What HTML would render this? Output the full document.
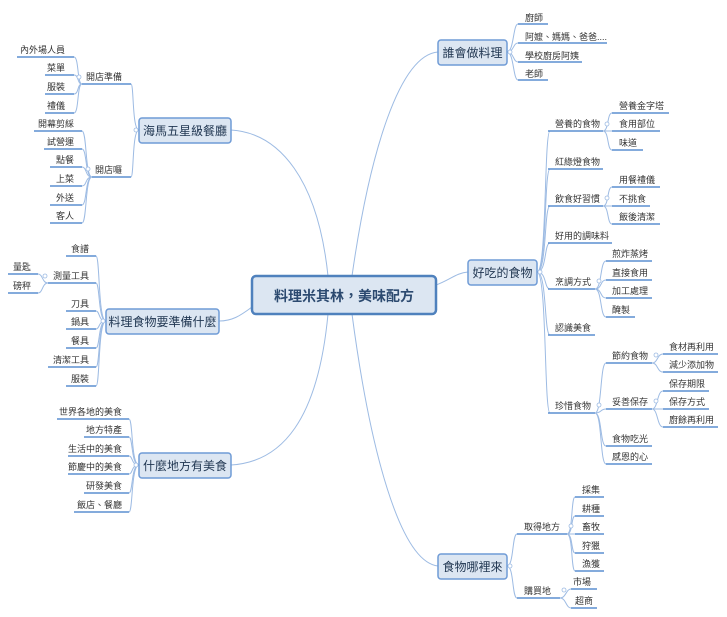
<!DOCTYPE html>
<html><head><meta charset="utf-8"><style>
html,body{margin:0;padding:0;background:#fff;}
svg{display:block;}
text{font-family:"Liberation Sans","Noto Sans CJK TC",sans-serif;fill:#333;}
.s{font-size:9px;}
.m{font-size:12px;fill:#1f3550;}
.c{fill:none;stroke:#9dbbe3;stroke-width:1;}
.u{stroke:#5b8fd1;stroke-width:1.4;}
.b{fill:#dce6f2;stroke:#6f9bd6;stroke-width:1.5;}
.o{fill:#fff;stroke:#9dbbe3;stroke-width:0.8;}
</style></head><body>
<svg width="727" height="617" viewBox="0 0 727 617" xmlns="http://www.w3.org/2000/svg">
<!-- main connectors -->
<path class="c" d="M328 276 C318 180,280 133,231 130"/>
<path class="c" d="M352 276 C370 150,400 55,438 52"/>
<path class="c" d="M436 285 C450 280,456 273,468 272"/>
<path class="c" d="M252 307 C240 316,232 321,219 321"/>
<path class="c" d="M328 314 C318 420,282 462,231 465"/>
<path class="c" d="M352 314 C370 450,400 562,438 566"/>

<!-- 誰會做料理 -->
<g>
<path class="c" d="M507 52 C514 52,513 24,518 24"/><path class="c" d="M507 52 C514 52,513 43,518 43"/>
<path class="c" d="M507 52 C514 52,513 62,518 62"/><path class="c" d="M507 52 C514 52,513 80,518 80"/>
<line class="u" x1="518" y1="24" x2="548" y2="24"/><line class="u" x1="518" y1="43" x2="607" y2="43"/>
<line class="u" x1="518" y1="62" x2="582" y2="62"/><line class="u" x1="518" y1="80" x2="548" y2="80"/>
<text class="s" x="525" y="21">廚師</text><text class="s" x="525" y="40">阿嬤、媽媽、爸爸....</text>
<text class="s" x="525" y="59">學校廚房阿姨</text><text class="s" x="525" y="77">老師</text>
</g>

<!-- 好吃的食物 -->
<g>
<path class="c" d="M537 272 C547 272,544 131,550 131"/><path class="c" d="M537 272 C547 272,544 169,550 169"/>
<path class="c" d="M537 272 C547 272,544 206,550 206"/><path class="c" d="M537 272 C547 272,544 243,550 243"/>
<path class="c" d="M537 272 C547 272,544 289,550 289"/><path class="c" d="M537 272 C547 272,544 335,550 335"/>
<path class="c" d="M537 272 C547 272,544 413,550 413"/>
<line class="u" x1="548" y1="131" x2="603" y2="131"/><line class="u" x1="548" y1="169" x2="603" y2="169"/>
<line class="u" x1="548" y1="206" x2="603" y2="206"/><line class="u" x1="548" y1="243" x2="612" y2="243"/>
<line class="u" x1="548" y1="289" x2="595" y2="289"/><line class="u" x1="548" y1="335" x2="595" y2="335"/>
<line class="u" x1="548" y1="413" x2="595" y2="413"/>
<text class="s" x="555" y="127">營養的食物</text><text class="s" x="555" y="165">紅綠燈食物</text>
<text class="s" x="555" y="202">飲食好習慣</text><text class="s" x="555" y="239">好用的調味料</text>
<text class="s" x="555" y="285">烹調方式</text><text class="s" x="555" y="331">認識美食</text>
<text class="s" x="555" y="409">珍惜食物</text>
<!-- 營養 -->
<path class="c" d="M603 131 C609 131,607 113,612 113"/><path class="c" d="M603 131 L612 131"/><path class="c" d="M603 131 C609 131,607 150,612 150"/>
<line class="u" x1="612" y1="113" x2="669" y2="113"/><line class="u" x1="612" y1="131" x2="660" y2="131"/><line class="u" x1="612" y1="150" x2="643" y2="150"/>
<text class="s" x="619" y="109">營養金字塔</text><text class="s" x="619" y="127">食用部位</text><text class="s" x="619" y="146">味道</text>
<!-- 飲食 -->
<path class="c" d="M603 206 C609 206,607 187,612 187"/><path class="c" d="M603 206 L612 206"/><path class="c" d="M603 206 C609 206,607 224,612 224"/>
<line class="u" x1="612" y1="187" x2="660" y2="187"/><line class="u" x1="612" y1="206" x2="650" y2="206"/><line class="u" x1="612" y1="224" x2="660" y2="224"/>
<text class="s" x="619" y="183">用餐禮儀</text><text class="s" x="619" y="202">不挑食</text><text class="s" x="619" y="220">飯後清潔</text>
<!-- 烹調 -->
<path class="c" d="M595 289 C602 289,600 261,606 261"/><path class="c" d="M595 289 C602 289,600 280,606 280"/>
<path class="c" d="M595 289 C602 289,600 298,606 298"/><path class="c" d="M595 289 C602 289,600 317,606 317"/>
<line class="u" x1="606" y1="261" x2="652" y2="261"/><line class="u" x1="606" y1="280" x2="652" y2="280"/>
<line class="u" x1="606" y1="298" x2="652" y2="298"/><line class="u" x1="606" y1="317" x2="635" y2="317"/>
<text class="s" x="612" y="257">煎炸蒸烤</text><text class="s" x="612" y="276">直接食用</text>
<text class="s" x="612" y="294">加工處理</text><text class="s" x="612" y="313">醃製</text>
<!-- 珍惜 -->
<path class="c" d="M595 413 C602 413,600 363,606 363"/><path class="c" d="M595 413 C602 413,600 409,606 409"/>
<path class="c" d="M595 413 C602 413,600 446,606 446"/><path class="c" d="M595 413 C602 413,600 464,606 464"/>
<line class="u" x1="606" y1="363" x2="652" y2="363"/><line class="u" x1="606" y1="409" x2="652" y2="409"/>
<line class="u" x1="606" y1="446" x2="652" y2="446"/><line class="u" x1="606" y1="464" x2="652" y2="464"/>
<text class="s" x="612" y="359">節約食物</text><text class="s" x="612" y="405">妥善保存</text>
<text class="s" x="612" y="442">食物吃光</text><text class="s" x="612" y="460">感恩的心</text>
<path class="c" d="M652 363 C658 363,657 354,663 354"/><path class="c" d="M652 363 C658 363,657 372,663 372"/>
<line class="u" x1="663" y1="354" x2="718" y2="354"/><line class="u" x1="663" y1="372" x2="718" y2="372"/>
<text class="s" x="669" y="350">食材再利用</text><text class="s" x="669" y="368">減少添加物</text>
<path class="c" d="M652 409 C658 409,657 391,663 391"/><path class="c" d="M652 409 L663 409"/><path class="c" d="M652 409 C658 409,657 427,663 427"/>
<line class="u" x1="663" y1="391" x2="709" y2="391"/><line class="u" x1="663" y1="409" x2="709" y2="409"/><line class="u" x1="663" y1="427" x2="718" y2="427"/>
<text class="s" x="669" y="387">保存期限</text><text class="s" x="669" y="405">保存方式</text><text class="s" x="669" y="423">廚餘再利用</text>
</g>

<!-- 食物哪裡來 -->
<g>
<path class="c" d="M507 566 C514 566,512 534,517 534"/><path class="c" d="M507 566 C514 566,512 598,517 598"/>
<line class="u" x1="517" y1="534" x2="567" y2="534"/><line class="u" x1="517" y1="598" x2="560" y2="598"/>
<text class="s" x="524" y="530">取得地方</text><text class="s" x="524" y="594">購買地</text>
<path class="c" d="M567 534 C573 534,571 497,575 497"/><path class="c" d="M567 534 C573 534,571 516,575 516"/>
<path class="c" d="M567 534 L575 534"/><path class="c" d="M567 534 C573 534,571 553,575 553"/>
<path class="c" d="M567 534 C573 534,571 571,575 571"/>
<line class="u" x1="575" y1="497" x2="604" y2="497"/><line class="u" x1="575" y1="516" x2="604" y2="516"/>
<line class="u" x1="575" y1="534" x2="604" y2="534"/><line class="u" x1="575" y1="553" x2="604" y2="553"/>
<line class="u" x1="575" y1="571" x2="604" y2="571"/>
<text class="s" x="582" y="493">採集</text><text class="s" x="582" y="512">耕種</text><text class="s" x="582" y="530">畜牧</text>
<text class="s" x="582" y="549">狩獵</text><text class="s" x="582" y="567">漁獲</text>
<path class="c" d="M560 598 C566 598,566 589,571 589"/><path class="c" d="M560 598 C566 598,566 608,571 608"/>
<line class="u" x1="571" y1="589" x2="597" y2="589"/><line class="u" x1="571" y1="608" x2="597" y2="608"/>
<text class="s" x="573" y="585">市場</text><text class="s" x="575" y="604">超商</text>
</g>

<!-- 海馬五星級餐廳 -->
<g>
<path class="c" d="M139 130 C132 130,134 84,131 84"/><path class="c" d="M139 130 C132 130,134 177,131 177"/>
<line class="u" x1="82" y1="84" x2="131" y2="84"/><line class="u" x1="92" y1="177" x2="131" y2="177"/>
<text class="s" x="122" y="80" text-anchor="end">開店準備</text><text class="s" x="122" y="173" text-anchor="end">開店囉</text>
<path class="c" d="M82 84 C77 84,79 57,74 57"/><path class="c" d="M82 84 C77 84,79 75,74 75"/>
<path class="c" d="M82 84 C77 84,79 94,74 94"/><path class="c" d="M82 84 C77 84,79 113,74 113"/>
<line class="u" x1="17" y1="57" x2="74" y2="57"/><line class="u" x1="45" y1="75" x2="74" y2="75"/>
<line class="u" x1="45" y1="94" x2="74" y2="94"/><line class="u" x1="45" y1="113" x2="74" y2="113"/>
<text class="s" x="65" y="53" text-anchor="end">內外場人員</text><text class="s" x="65" y="71" text-anchor="end">菜單</text>
<text class="s" x="65" y="90" text-anchor="end">服裝</text><text class="s" x="65" y="109" text-anchor="end">禮儀</text>
<path class="c" d="M92 177 C85 177,87 131,82 131"/><path class="c" d="M92 177 C85 177,87 149,82 149"/>
<path class="c" d="M92 177 C85 177,87 167,82 167"/><path class="c" d="M92 177 C85 177,87 186,82 186"/>
<path class="c" d="M92 177 C85 177,87 205,82 205"/><path class="c" d="M92 177 C85 177,87 223,82 223"/>
<line class="u" x1="34" y1="131" x2="82" y2="131"/><line class="u" x1="44" y1="149" x2="82" y2="149"/>
<line class="u" x1="50" y1="167" x2="82" y2="167"/><line class="u" x1="50" y1="186" x2="82" y2="186"/>
<line class="u" x1="50" y1="205" x2="82" y2="205"/><line class="u" x1="50" y1="223" x2="82" y2="223"/>
<text class="s" x="74" y="127" text-anchor="end">開幕剪綵</text><text class="s" x="74" y="145" text-anchor="end">試營運</text>
<text class="s" x="74" y="163" text-anchor="end">點餐</text><text class="s" x="74" y="182" text-anchor="end">上菜</text>
<text class="s" x="74" y="201" text-anchor="end">外送</text><text class="s" x="74" y="219" text-anchor="end">客人</text>
</g>

<!-- 料理食物要準備什麼 -->
<g>
<path class="c" d="M106 321 C98 321,100 256,96 256"/><path class="c" d="M106 321 C98 321,100 283,96 283"/>
<path class="c" d="M106 321 C98 321,100 311,96 311"/><path class="c" d="M106 321 C98 321,100 329,96 329"/>
<path class="c" d="M106 321 C98 321,100 348,96 348"/><path class="c" d="M106 321 C98 321,100 367,96 367"/>
<path class="c" d="M106 321 C98 321,100 386,96 386"/>
<line class="u" x1="66" y1="256" x2="96" y2="256"/><line class="u" x1="48" y1="283" x2="96" y2="283"/>
<line class="u" x1="66" y1="311" x2="96" y2="311"/><line class="u" x1="66" y1="329" x2="96" y2="329"/>
<line class="u" x1="66" y1="348" x2="96" y2="348"/><line class="u" x1="48" y1="367" x2="96" y2="367"/>
<line class="u" x1="66" y1="386" x2="96" y2="386"/>
<text class="s" x="89" y="252" text-anchor="end">食譜</text><text class="s" x="89" y="279" text-anchor="end">測量工具</text>
<text class="s" x="89" y="307" text-anchor="end">刀具</text><text class="s" x="89" y="325" text-anchor="end">鍋具</text>
<text class="s" x="89" y="344" text-anchor="end">餐具</text><text class="s" x="89" y="363" text-anchor="end">清潔工具</text>
<text class="s" x="89" y="382" text-anchor="end">服裝</text>
<path class="c" d="M48 283 C42 283,43 274,38 274"/><path class="c" d="M48 283 C42 283,43 293,38 293"/>
<line class="u" x1="8" y1="274" x2="38" y2="274"/><line class="u" x1="8" y1="293" x2="38" y2="293"/>
<text class="s" x="13" y="270">量匙</text><text class="s" x="13" y="289">磅秤</text>
</g>

<!-- 什麼地方有美食 -->
<g>
<path class="c" d="M139 465 C131 465,133 419,129 419"/><path class="c" d="M139 465 C131 465,133 437,129 437"/>
<path class="c" d="M139 465 C131 465,133 456,129 456"/><path class="c" d="M139 465 C131 465,133 474,129 474"/>
<path class="c" d="M139 465 C131 465,133 493,129 493"/><path class="c" d="M139 465 C131 465,133 512,129 512"/>
<line class="u" x1="57" y1="419" x2="129" y2="419"/><line class="u" x1="84" y1="437" x2="129" y2="437"/>
<line class="u" x1="68" y1="456" x2="129" y2="456"/><line class="u" x1="68" y1="474" x2="129" y2="474"/>
<line class="u" x1="84" y1="493" x2="129" y2="493"/><line class="u" x1="74" y1="512" x2="129" y2="512"/>
<text class="s" x="122" y="415" text-anchor="end">世界各地的美食</text><text class="s" x="122" y="433" text-anchor="end">地方特產</text>
<text class="s" x="122" y="452" text-anchor="end">生活中的美食</text><text class="s" x="122" y="470" text-anchor="end">節慶中的美食</text>
<text class="s" x="122" y="489" text-anchor="end">研發美食</text><text class="s" x="122" y="508" text-anchor="end">飯店、餐廳</text>
</g>

<!-- collapse circles -->
<g class="o">
<circle cx="510" cy="52" r="2"/><circle cx="540" cy="272" r="2"/><circle cx="607" cy="124" r="2"/><circle cx="607" cy="198" r="2"/>
<circle cx="599" cy="281" r="2"/><circle cx="599" cy="405" r="2"/><circle cx="656" cy="355" r="2"/><circle cx="656" cy="401" r="2"/>
<circle cx="510" cy="566" r="2"/><circle cx="571" cy="526" r="2"/><circle cx="564" cy="590" r="2"/>
<circle cx="136" cy="130" r="2"/><circle cx="79" cy="77" r="2"/><circle cx="88" cy="169" r="2"/><circle cx="103" cy="321" r="2"/>
<circle cx="45" cy="276" r="2"/><circle cx="136" cy="465" r="2"/>
</g>

<!-- main boxes -->
<rect class="b" x="438" y="40" width="69" height="25" rx="3"/><text class="m" x="472.5" y="57" text-anchor="middle">誰會做料理</text>
<rect class="b" x="139" y="118" width="92" height="25" rx="3"/><text class="m" x="185" y="135" text-anchor="middle">海馬五星級餐廳</text>
<rect class="b" x="468" y="260" width="69" height="25" rx="3"/><text class="m" x="502.5" y="277" text-anchor="middle">好吃的食物</text>
<rect class="b" x="106" y="309" width="113" height="25" rx="3"/><text class="m" x="162.5" y="326" text-anchor="middle">料理食物要準備什麼</text>
<rect class="b" x="139" y="453" width="92" height="25" rx="3"/><text class="m" x="185" y="470" text-anchor="middle">什麼地方有美食</text>
<rect class="b" x="438" y="554" width="69" height="25" rx="3"/><text class="m" x="472.5" y="571" text-anchor="middle">食物哪裡來</text>

<!-- central -->
<rect x="252" y="276" width="184" height="38" rx="4" fill="#dce6f2" stroke="#4f81bd" stroke-width="2.5"/>
<text x="344" y="301" text-anchor="middle" style="font-size:14px;font-weight:bold;fill:#2c4a70;">料理米其林，美味配方</text>
</svg>
</body></html>
